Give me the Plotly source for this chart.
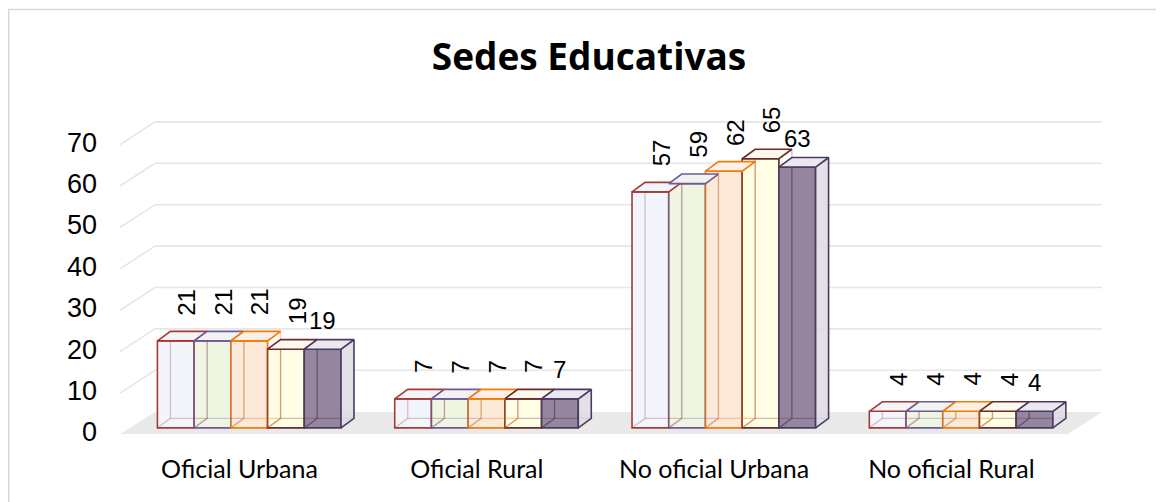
import plotly.graph_objects as go

# ---------------- data ----------------
categories = ["Oficial Urbana", "Oficial Rural", "No oficial Urbana", "No oficial Rural"]
series_names = ["Serie 1", "Serie 2", "Serie 3", "Serie 4", "Serie 5"]
serie_1 = [21, 7, 57, 4]
serie_2 = [21, 7, 59, 4]
serie_3 = [21, 7, 62, 4]
serie_4 = [19, 7, 65, 4]
serie_5 = [19, 7, 63, 4]
y_ticks = [0, 10, 20, 30, 40, 50, 60, 70]

all_series = [serie_1, serie_2, serie_3, serie_4, serie_5]

# ---------------- styles ----------------
front_fills = ["#f2f6fc", "#eef6e2", "#fde9d7", "#fffde3", "#94869f"]
top_fills = ["#f4f3f7", "#f2f3f1", "#fdf1e6", "#fbf8ee", "#ebe8ef"]
border_cols = ["#a33b39", "#6f5a97", "#f07c0c", "#6a2c2c", "#4b3b62"]
faint_cols = ["rgba(163,59,57,0.30)", "rgba(111,90,151,0.30)", "rgba(240,124,12,0.35)",
              "rgba(106,44,44,0.30)", "rgba(75,59,98,0.45)"]

BAR_W = 0.1547      # bar width in category units
SHIFT = 0.0409      # front faces shifted right of category centre
BASE = 1.0          # bars stand slightly inside the floor
DX, DY = 0.0548, 2.3  # 3-D depth offsets
X_MIN, X_MAX = -0.5036, 3.6347
Y_MIN, Y_MAX = -0.725, 77.05

fig = go.Figure()

# front faces (real bars)
for i, vals in enumerate(all_series):
    xs = [c + SHIFT + (i - 2) * BAR_W for c in range(len(categories))]
    fig.add_trace(go.Bar(
        x=xs, y=vals, base=BASE, width=BAR_W, name=series_names[i],
        marker=dict(color=front_fills[i], line=dict(color=border_cols[i], width=1.6)),
        hoverinfo="skip", showlegend=False,
    ))

# depth faces derived from the same values
for i, vals in enumerate(all_series):
    hx, hy, sx, sy, tx, ty = [], [], [], [], [], []
    for c, v in enumerate(vals):
        xc = c + SHIFT + (i - 2) * BAR_W
        xl, xr = xc - BAR_W / 2, xc + BAR_W / 2
        t = BASE + v
        hx += [xl, xl + DX, xl + DX, None, xl + DX, xr + DX, None]
        hy += [BASE, BASE + DY, t + DY, None, BASE + DY, BASE + DY, None]
        sx += [xr, xr + DX, xr + DX, xr, xr, None]
        sy += [BASE, BASE + DY, t + DY, t, BASE, None]
        tx += [xl, xl + DX, xr + DX, xr, xl, None]
        ty += [t, t + DY, t + DY, t, t, None]
    fig.add_trace(go.Scatter(x=hx, y=hy, mode="lines", line=dict(color=faint_cols[i], width=1.3),
                             hoverinfo="skip", showlegend=False))
    if i == len(all_series) - 1:
        fig.add_trace(go.Scatter(x=sx, y=sy, mode="lines", fill="toself", fillcolor="rgba(222,219,228,0.85)",
                                 line=dict(color=border_cols[i], width=1.6), hoverinfo="skip", showlegend=False))
    else:
        fig.add_trace(go.Scatter(x=sx, y=sy, mode="lines", line=dict(color=faint_cols[i], width=1.3),
                                 hoverinfo="skip", showlegend=False))
    fig.add_trace(go.Scatter(x=tx, y=ty, mode="lines", fill="toself", fillcolor=top_fills[i],
                             line=dict(color=border_cols[i], width=1.6), hoverinfo="skip", showlegend=False))

# data labels
annotations = []
for i, vals in enumerate(all_series):
    for c, v in enumerate(vals):
        xc = c + SHIFT + (i - 2) * BAR_W
        rotated = i < len(all_series) - 1
        annotations.append(dict(
            x=xc + (DX * 0.85 if rotated else 0), y=BASE + v + DY, xref="x", yref="y",
            text=str(v), showarrow=False, textangle=-90 if rotated else 0,
            xanchor="center", yanchor="bottom", yshift=14 if rotated else 4,
            font=dict(family="Liberation Sans, Arial", size=24, color="#000000"),
        ))

# floor and back-wall gridlines (drawn below the bars)
shapes = []
floor_back_x = X_MIN + 0.1475
floor_front_r = X_MAX - 0.1433
shapes.append(dict(type="path", xref="x", yref="y", layer="below",
                   path=f"M {X_MIN},{-0.5} L {floor_back_x},{4.85} L {X_MAX},{4.85} L {floor_front_r},{-0.5} Z",
                   fillcolor="#e9e9e9", line=dict(width=0)))
for k in y_ticks[1:]:
    shapes.append(dict(type="path", xref="x", yref="y", layer="below",
                       path=f"M {X_MIN},{k - 0.6} L {floor_back_x},{k + 4.9} L {X_MAX},{k + 4.9}",
                       line=dict(color="#e6e6e6", width=1.6)))
# chart border
shapes.append(dict(type="rect", xref="paper", yref="paper", x0=-0.1133, y0=-0.25, x1=1.08, y1=1.3214,
                   line=dict(color="#d9d9d9", width=1.5), fillcolor="rgba(0,0,0,0)", layer="below"))

# page body adds an 8px offset, so the figure is 8px smaller and everything shifted accordingly
fig.update_layout(
    width=1156, height=494,
    margin=dict(l=112, r=62, t=105, b=67),
    paper_bgcolor="white", plot_bgcolor="white",
    barmode="overlay",
    title=dict(text="Sedes Educativas", x=581 / 1156, xanchor="center", y=1 - 49 / 494, yanchor="middle",
               font=dict(family="Open Sans", size=37, color="#000000", weight=700)),
    xaxis=dict(range=[X_MIN, X_MAX], tickmode="array", tickvals=list(range(len(categories))),
               ticktext=categories, showgrid=False, zeroline=False, showline=False, ticks="",
               ticklabelstandoff=17, tickfont=dict(family="Lato", size=25, color="#000000")),
    yaxis=dict(range=[Y_MIN, Y_MAX], tickmode="array", tickvals=y_ticks,
               showgrid=False, zeroline=False, showline=False, ticks="",
               ticklabelstandoff=22, tickfont=dict(family="Liberation Sans, Arial", size=27, color="#000000")),
    annotations=annotations,
    shapes=shapes,
    showlegend=False,
)

fig.write_html("out.html")
